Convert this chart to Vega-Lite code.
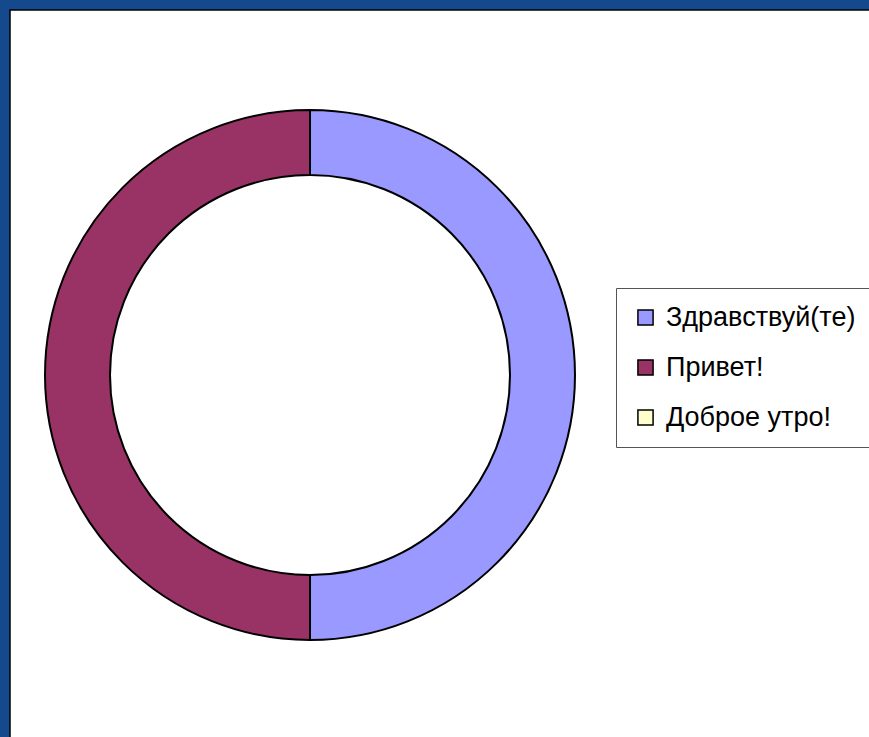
{
  "$schema": "https://vega.github.io/schema/vega-lite/v6.json",
  "width": 870,
  "height": 740,
  "autosize": {"type": "none"},
  "padding": {"left": 10, "top": 10, "right": 0, "bottom": 0},
  "background": "#15498D",
  "layer": [
    {
      "data": {"values": [{"frame": 1}]},
      "mark": {"type": "rect", "fill": "white", "stroke": "black", "strokeWidth": 1.5},
      "encoding": {}
    },
    {
      "data": {
        "values": [
          {"category": "Здравствуй(те)", "value": 50, "rank": 1},
          {"category": "Привет!", "value": 50, "rank": 2},
          {"category": "Доброе утро!", "value": 0, "rank": 3}
        ]
      },
      "mark": {
        "type": "arc",
        "x": 300,
        "y": 365,
        "outerRadius": 265,
        "innerRadius": 200,
        "stroke": "black",
        "strokeWidth": 2
      },
      "encoding": {
        "theta": {"field": "value", "type": "quantitative", "stack": true},
        "order": {"field": "rank", "type": "quantitative"},
        "color": {
          "field": "category",
          "type": "nominal",
          "sort": ["Здравствуй(те)", "Привет!", "Доброе утро!"],
          "scale": {
            "domain": ["Здравствуй(те)", "Привет!", "Доброе утро!"],
            "range": ["#9999FF", "#993366", "#FFFFCC"]
          },
          "legend": {
            "title": null,
            "orient": "none",
            "legendX": 606,
            "legendY": 278,
            "fillColor": "white",
            "strokeColor": "#555555",
            "padding": 16,
            "symbolType": "square",
            "symbolSize": 230,
            "symbolStrokeColor": "black",
            "symbolStrokeWidth": 1.5,
            "symbolOpacity": 1,
            "labelFont": "Liberation Sans",
            "labelFontSize": 27,
            "labelColor": "black",
            "labelOffset": 7,
            "labelLimit": 400,
            "rowPadding": 22
          }
        }
      }
    }
  ]
}
